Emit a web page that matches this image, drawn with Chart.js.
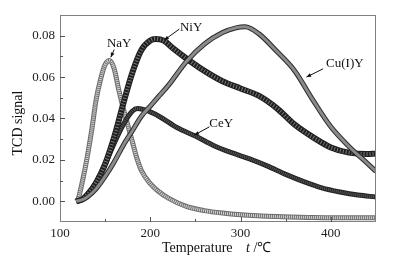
<!DOCTYPE html>
<html>
<head>
<meta charset="utf-8">
<script src="https://cdn.jsdelivr.net/npm/chart.js@4.4.1/dist/chart.umd.min.js"></script>
<style>
  html, body { margin: 0; padding: 0; background: #fff; }
  #wrap { width: 407px; height: 263px; }
</style>
</head>
<body>
<div id="wrap"><canvas id="tcdChart" width="407" height="263"></canvas></div>
<script>
// datos (temperatura en ℃, señal TCD)
const nayT = [118, 120, 125, 130, 135, 140, 145, 150, 155, 160, 165, 170, 175, 180, 185, 190, 200, 210, 220, 240, 260, 280, 300, 340, 380, 420, 450];
const nayV = [0, 0.001, 0.010, 0.021, 0.034, 0.049, 0.059, 0.066, 0.068, 0.064, 0.054, 0.045, 0.037, 0.029, 0.021, 0.015, 0.0085, 0.0045, 0.0015, -0.0025, -0.0045, -0.0057, -0.0065, -0.0074, -0.0078, -0.008, -0.008];

const niyT = [118, 125, 130, 140, 150, 160, 170, 180, 190, 200, 206, 215, 225, 240, 260, 280, 300, 320, 340, 360, 380, 400, 420, 440, 450];
const niyV = [0, 0.001, 0.003, 0.009, 0.018, 0.031, 0.047, 0.062, 0.073, 0.0777, 0.0784, 0.0776, 0.074, 0.069, 0.063, 0.058, 0.0545, 0.051, 0.045, 0.037, 0.031, 0.026, 0.0235, 0.0228, 0.023];

const ceyT = [118, 125, 130, 140, 150, 160, 170, 180, 186, 195, 210, 230, 250, 270, 290, 310, 330, 350, 370, 390, 410, 430, 450];
const ceyV = [0, 0.001, 0.003, 0.009, 0.018, 0.028, 0.037, 0.0435, 0.0448, 0.044, 0.041, 0.0355, 0.0315, 0.027, 0.0235, 0.0205, 0.017, 0.013, 0.0095, 0.0065, 0.0045, 0.003, 0.0021];

const cuyT = [118, 125, 130, 140, 150, 160, 170, 180, 190, 200, 210, 220, 240, 260, 280, 295, 305, 320, 340, 360, 380, 400, 420, 440, 450];
const cuyV = [0, 0.0008, 0.002, 0.006, 0.012, 0.019, 0.027, 0.034, 0.041, 0.046, 0.051, 0.056, 0.0675, 0.076, 0.0815, 0.0838, 0.0843, 0.081, 0.0725, 0.063, 0.049, 0.036, 0.0265, 0.0185, 0.0144];

const xLabels = [100, 200, 300, 400];
const yLabels = [0, 0.02, 0.04, 0.06, 0.08];

// etiquetas con flecha: [texto, x texto, y texto, x desde, y desde, x punta, y punta]
const notas = [
  ['NaY', 165.6, 0.0763, 160, 0.0733, 156.3, 0.0696],
  ['NiY', 245.2, 0.0839, 232.2, 0.0832, 215.5, 0.0779],
  ['Cu(I)Y', 415.5, 0.0664, 391.4, 0.064, 373, 0.0600],
  ['CeY', 278.6, 0.0376, 265.6, 0.036, 248.9, 0.0320]
];

const fuente = "'Liberation Serif', 'Times New Roman', serif";

// cada curva es una banda: borde oscuro + relleno encima
function banda(T, V, borde, relleno, ancho, dash, orden) {
  const pts = T.map((t, i) => ({ x: t, y: V[i] }));
  const base = { data: pts, pointRadius: 0, cubicInterpolationMode: 'monotone', fill: false };
  return [
    Object.assign({}, base, { borderColor: borde, borderWidth: ancho + 2, order: orden + 1 }),
    Object.assign({}, base, { borderColor: relleno, borderWidth: ancho, borderDash: dash, order: orden })
  ];
}

const decoracion = {
  id: 'decoracion',
  afterDraw(chart) {
    const { ctx, chartArea: a, scales: { x, y } } = chart;
    ctx.save();
    ctx.strokeStyle = '#808080';
    ctx.lineWidth = 1;
    ctx.strokeRect(a.left + 0.5, a.top + 0.5, a.right - a.left - 1, a.bottom - a.top - 1);

    // marcas hacia adentro
    ctx.strokeStyle = '#555';
    for (let t = 150; t < 450; t += 50) {
      const px = Math.round(x.getPixelForValue(t)) + 0.5;
      const len = t % 100 === 0 ? 5 : 3;
      ctx.beginPath(); ctx.moveTo(px, a.bottom); ctx.lineTo(px, a.bottom - len); ctx.stroke();
    }
    for (let k = 0; k <= 8; k++) {
      const py = Math.round(y.getPixelForValue(k / 100)) + 0.5;
      const len = k % 2 === 0 ? 5 : 3;
      ctx.beginPath(); ctx.moveTo(a.left, py); ctx.lineTo(a.left + len, py); ctx.stroke();
    }

    // notas con flecha
    ctx.fillStyle = '#111';
    ctx.strokeStyle = '#111';
    ctx.font = '13px ' + fuente;
    ctx.textAlign = 'center';
    ctx.textBaseline = 'middle';
    notas.forEach(n => {
      ctx.fillText(n[0], x.getPixelForValue(n[1]), y.getPixelForValue(n[2]));
      const x0 = x.getPixelForValue(n[3]), y0 = y.getPixelForValue(n[4]);
      const x1 = x.getPixelForValue(n[5]), y1 = y.getPixelForValue(n[6]);
      const ang = Math.atan2(y1 - y0, x1 - x0);
      ctx.beginPath(); ctx.moveTo(x0, y0); ctx.lineTo(x1, y1); ctx.stroke();
      ctx.beginPath();
      ctx.moveTo(x1, y1);
      ctx.lineTo(x1 - 5 * Math.cos(ang - 0.4), y1 - 5 * Math.sin(ang - 0.4));
      ctx.lineTo(x1 - 5 * Math.cos(ang + 0.4), y1 - 5 * Math.sin(ang + 0.4));
      ctx.closePath(); ctx.fill();
    });

    // titulos de ejes
    ctx.font = '14px ' + fuente;
    ctx.textAlign = 'left';
    ctx.fillText('Temperature', 162, 248);
    ctx.font = 'italic 14px ' + fuente;
    ctx.fillText('t', 246, 248);
    ctx.font = '14px ' + fuente;
    ctx.fillText(' /\u2103', 250, 248);

    ctx.translate(18, 123);
    ctx.rotate(-Math.PI / 2);
    ctx.textAlign = 'center';
    ctx.fillText('TCD signal', 0, 0);
    ctx.restore();
  }
};

const datasets = [].concat(
  banda(cuyT, cuyV, '#2a2a2a', '#8a8a8a', 3, [], 0),
  banda(niyT, niyV, '#1e1e1e', '#7a7a7a', 4, [1, 2], 2),
  banda(ceyT, ceyV, '#222222', '#5a5a5a', 3, [1, 1], 4),
  banda(nayT, nayV, '#6e6e6e', '#d8d8d8', 3, [1, 1], 6)
);

new Chart(document.getElementById('tcdChart'), {
  type: 'line',
  data: { datasets: datasets },
  options: {
    responsive: false,
    animation: false,
    layout: { padding: { top: 15, right: 31, left: 0, bottom: 0 } },
    plugins: { legend: { display: false }, tooltip: { enabled: false } },
    scales: {
      x: {
        type: 'linear', min: 100, max: 450,
        grid: { display: false, drawTicks: false },
        border: { display: false },
        afterFit: s => { s.height = 41; },
        ticks: {
          stepSize: 50, padding: 4, color: '#222', maxRotation: 0,
          font: { family: fuente, size: 13 },
          callback: v => xLabels.includes(v) ? String(v) : ''
        }
      },
      y: {
        min: -0.01, max: 0.09,
        grid: { display: false, drawTicks: false },
        border: { display: false },
        afterFit: s => { s.width = 60; },
        ticks: {
          stepSize: 0.01, padding: 5, color: '#222',
          font: { family: fuente, size: 13 },
          callback: v => {
            const lab = yLabels.find(q => Math.abs(q - v) < 1e-6);
            return lab === undefined ? '' : lab.toFixed(2);
          }
        }
      }
    }
  },
  plugins: [decoracion]
});
</script>
</body>
</html>
